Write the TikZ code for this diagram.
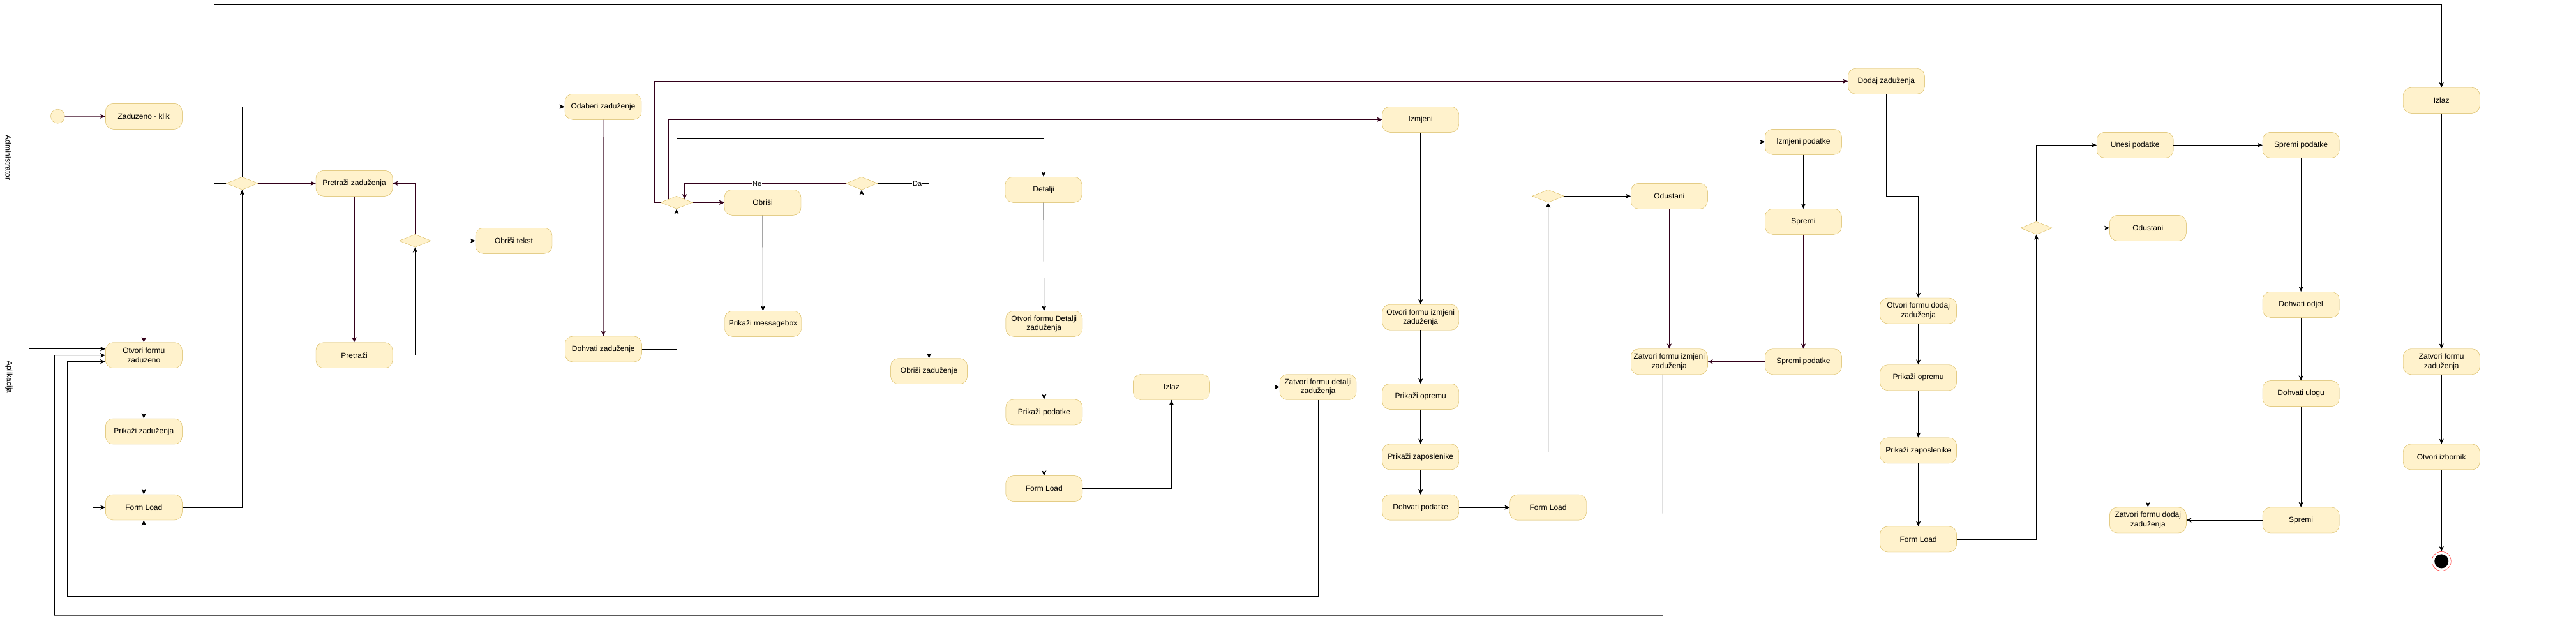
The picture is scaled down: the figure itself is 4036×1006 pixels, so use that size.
\documentclass[tikz,border=0pt]{standalone}
\usepackage{fontspec}
\setmainfont{Liberation Sans}
\usepackage{tikz}
\usetikzlibrary{
    arrows.meta,
    shapes.geometric,
    calc
}
\definecolor{actfill}{HTML}{FFF2CC}
\definecolor{actline}{HTML}{D6B656}
\definecolor{flowdark}{HTML}{33001A}
\tikzset{
    act/.style={rectangle, rounded corners=12pt, draw=actline, fill=actfill,
        minimum width=120pt, minimum height=40pt, inner sep=2pt, align=center,
        font=\fontsize{12}{14.5}\selectfont},
    choice/.style={diamond, draw=actline, fill=actfill, minimum width=50pt,
        minimum height=20pt, inner sep=0pt},
    startst/.style={circle, draw=actline, fill=actfill, minimum size=22pt, inner sep=0pt},
    endst/.style={circle, draw=red, fill=white, minimum size=30pt, inner sep=0pt},
    lane/.style={rotate=-90, font=\fontsize{12}{14}\selectfont},
    guard/.style={fill=white, inner sep=1pt, font=\fontsize{11}{13}\selectfont},
    flow/.style={->, line width=0.9pt},
    dk/.style={draw=flowdark},
    >={Stealth[length=8pt,width=7pt,inset=2pt]}
}

\begin{document}
\begin{tikzpicture}[x=1pt, y=-1pt]
    \useasboundingbox (0,0) rectangle (4036,1006);

    % swimlanes
    \draw[actline, line width=0.9pt] (5,421) -- (4036,421);
    \draw (13,247) node[lane]{Administrator};
    \draw (14,591) node[lane]{Aplikacija};

    % Administrator
    \begin{scope}[shift={(0,0)}]
        \draw (  90.4,182.2) node[startst](st){};
        \draw ( 225.3,182.3) node[act](zk){Zaduzeno - klik};
        \draw ( 379.4,287.3) node[choice](d1){};
        \draw ( 555.0,287.3) node[act](pz){Pretraži zaduženja};
        \draw ( 650.4,377.3) node[choice](d2){};
        \draw ( 805.0,377.3) node[act](ot){Obriši tekst};
        \draw ( 945.0,167.3) node[act](oz){Odaberi zaduženje};
        \draw (1060.0,317.3) node[choice](d3){};
        \draw (1195.0,317.3) node[act](ob){Obriši};
        \draw (1350.0,287.3) node[choice](d4){};
        \draw (1635.0,297.3) node[act](det){Detalji};
        \draw (2225.7,187.3) node[act](izm){Izmjeni};
        \draw (2425.6,307.3) node[choice](d5){};
        \draw (2615.3,307.3) node[act](od1){Odustani};
        \draw (2825.4,222.3) node[act](ip){Izmjeni podatke};
        \draw (2825.4,347.3) node[act](spr1){Spremi};
        \draw (2955.4,127.3) node[act](dz){Dodaj zaduženja};
        \draw (3190.6,357.3) node[choice](d6){};
        \draw (3345.2,227.3) node[act](up){Unesi podatke};
        \draw (3365.3,357.3) node[act](od2){Odustani};
        \draw (3605.1,227.3) node[act](sp2){Spremi podatke};
        \draw (3825.2,157.3) node[act](iz2){Izlaz};
    \end{scope}

    % Aplikacija
    \begin{scope}[shift={(0,0)}]
        \draw ( 225.3,556.7) node[act](ofz){Otvori formu\\zaduzeno};
        \draw ( 225.3,676.0) node[act](pzd){Prikaži zaduženja};
        \draw ( 225.3,795.0) node[act](fl1){Form Load};
        \draw ( 555.0,556.7) node[act](pr){Pretraži};
        \draw ( 945.3,547.0) node[act](dhz){Dohvati zaduženje};
        \draw (1195.5,507.3) node[act](pm){Prikaži messagebox};
        \draw (1455.6,581.7) node[act](obz){Obriši zaduženje};
        \draw (1635.8,507.3) node[act](ofd){Otvori formu Detalji\\zaduženja};
        \draw (1635.8,646.0) node[act](ppd){Prikaži podatke};
        \draw (1635.8,765.6) node[act](fl2){Form Load};
        \draw (1835.4,606.5) node[act](izl){Izlaz};
        \draw (2065.0,606.5) node[act](zfd){Zatvori formu detalji\\zaduženja};
        \draw (2225.7,497.2) node[act](ofi){Otvori formu izmjeni\\zaduženja};
        \draw (2225.7,621.4) node[act](po1){Prikaži opremu};
        \draw (2225.7,715.9) node[act](pz1){Prikaži zaposlenike};
        \draw (2225.7,795.1) node[act](dp){Dohvati podatke};
        \draw (2425.5,795.1) node[act](fl3){Form Load};
        \draw (2615.3,566.7) node[act](zfi){Zatvori formu izmjeni\\zaduženja};
        \draw (2825.4,566.7) node[act](spd1){Spremi podatke};
        \draw (3005.6,487.0) node[act](ofdd){Otvori formu dodaj\\zaduženja};
        \draw (3005.6,591.7) node[act](po2){Prikaži opremu};
        \draw (3005.6,705.9) node[act](pz2){Prikaži zaposlenike};
        \draw (3005.6,845.0) node[act](fl4){Form Load};
        \draw (3605.1,477.3) node[act](dod){Dohvati odjel};
        \draw (3605.1,616.6) node[act](dul){Dohvati ulogu};
        \draw (3605.1,815.0) node[act](spr2){Spremi};
        \draw (3365.3,815.0) node[act](zfdd){Zatvori formu dodaj\\zaduženja};
        \draw (3825.2,566.7) node[act](zfz){Zatvori formu\\zaduženja};
        \draw (3825.2,715.9) node[act](oi){Otvori izbornik};
        \draw (3825.2,879.4) node[endst](fin){};
        \fill (fin.center) circle (11pt);
    \end{scope}

    % dark connectors
    \draw[flow,dk] (st) -- (zk);
    \draw[flow,dk] (zk) -- (ofz);
    \draw[flow,dk] (d1) -- (pz);
    \draw[flow,dk] (pz) -- (pr);
    \draw[flow,dk] (d2.north) |- (pz.east);
    \draw[flow,dk] (oz) -- (dhz);
    \draw[flow,dk] (d3) -- (ob);
    \draw[flow,dk] (d3.west) -| (1025.4,127.3) -- (dz.west);
    \draw[flow,dk] (d3.north west) |- (izm.west);
    \draw[flow,dk] (d4.west) -| node[guard,pos=0.275]{Ne} (d3.north east);
    \draw[flow,dk] (od1) -- (zfi);
    \draw[flow,dk] (spr1) -- (spd1);
    \draw[flow,dk] (spd1) -- (zfi);

    % black connectors
    \draw[flow] (d1.west) -| (335.8,7.3) -| (iz2.north);
    \draw[flow] (d1.north) |- (oz.west);
    \draw[flow] (d2) -- (ot);
    \draw[flow] (fl1.east) -| (d1.south);
    \draw[flow] (pr.east) -| (d2.south);
    \draw[flow] (ot.south) -- (805,855) -| (fl1.south);
    \draw[flow] (ofz) -- (pzd);
    \draw[flow] (pzd) -- (fl1);
    \draw[flow] (obz.south) -- (1455.6,894.7) -| (145.8,795) -- (fl1.west);
    \draw[flow] (dhz.east) -| (d3.south);
    \draw[flow] (ob) -- (pm);
    \draw[flow] (pm.east) -| (d4.south);
    \draw[flow] (d3.north) -- (1060,217.3) -| (det.north);
    \draw[flow] (d4.east) -| node[guard,pos=0.385]{Da} (obz.north);
    \draw[flow] (det) -- (ofd);
    \draw[flow] (ofd) -- (ppd);
    \draw[flow] (ppd) -- (fl2);
    \draw[flow] (fl2.east) -| (izl.south);
    \draw[flow] (izl) -- (zfd);
    \draw[flow] (zfd.south) -- (2065,934.3) -| (105.6,566.7) -- ([yshift=-10pt]ofz.west);
    \draw[flow] (izm) -- (ofi);
    \draw[flow] (ofi) -- (po1);
    \draw[flow] (po1) -- (pz1);
    \draw[flow] (pz1) -- (dp);
    \draw[flow] (dp) -- (fl3);
    \draw[flow] (fl3) -- (d5);
    \draw[flow] (d5.north) |- (ip.west);
    \draw[flow] (d5) -- (od1);
    \draw[flow] (ip) -- (spr1);
    \draw[flow] ([xshift=-10pt]zfi.south) -- (2605.5,964.2) -| (85.5,556.7) -- (ofz.west);
    \draw[flow] (dz.south) -- (2955.4,307.3) -| (ofdd.north);
    \draw[flow] (ofdd) -- (po2);
    \draw[flow] (po2) -- (pz2);
    \draw[flow] (pz2) -- (fl4);
    \draw[flow] (fl4.east) -| (d6.south);
    \draw[flow] (d6.north) |- (up.west);
    \draw[flow] (d6) -- (od2);
    \draw[flow] (up) -- (sp2);
    \draw[flow] (sp2) -- (dod);
    \draw[flow] (dod) -- (dul);
    \draw[flow] (dul) -- (spr2);
    \draw[flow] (spr2) -- (zfdd);
    \draw[flow] (od2) -- (zfdd);
    \draw[flow] (zfdd.south) -- (3365.3,993.6) -| (45.3,546.7) -- ([yshift=10pt]ofz.west);
    \draw[flow] (iz2) -- (zfz);
    \draw[flow] (zfz) -- (oi);
    \draw[flow] (oi) -- (fin);
\end{tikzpicture}
\end{document}
